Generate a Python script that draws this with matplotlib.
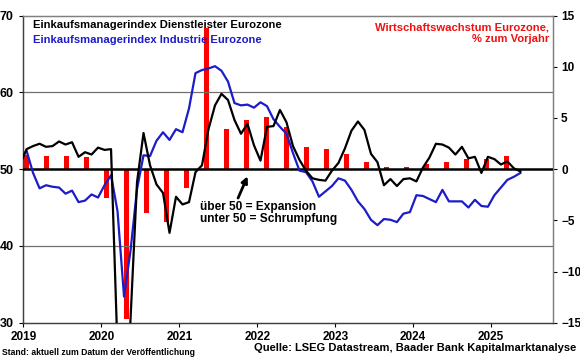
import numpy as np
import pandas as pd
import matplotlib
matplotlib.use("Agg")
import matplotlib.pyplot as plt

plt.rcParams['font.family'] = ['Liberation Sans', 'DejaVu Sans']

# monatliche Einkaufsmanagerindizes (Dez 2018 bis Mai 2025)
monate = pd.period_range('2018-12', '2025-05', freq='M')
pmi_dienstleister = [
    50.6,
    52.6, 53.0, 53.3, 52.9, 53.0, 53.6, 53.2, 53.5, 51.6, 52.2, 51.9, 52.8,
    52.5, 52.6, 26.4, 12.0, 30.5, 48.3, 54.7, 50.5, 48.0, 46.9, 41.7, 46.4,
    45.4, 45.7, 49.6, 50.5, 55.2, 58.3, 59.8, 59.0, 56.4, 54.6, 55.9, 53.1,
    51.1, 55.5, 55.6, 57.7, 56.1, 53.0, 51.2, 49.8, 48.8, 48.6, 48.5, 49.8,
    50.8, 52.7, 55.0, 56.2, 55.1, 52.0, 50.9, 47.9, 48.7, 47.8, 48.7, 48.8,
    48.4, 50.2, 51.5, 53.3, 53.2, 52.8, 51.9, 52.9, 51.4, 51.6, 49.5, 51.6,
    51.3, 50.6, 51.0, 50.1, 49.7,
]
pmi_industrie = [
    51.2,
    52.4, 49.5, 47.5, 47.9, 47.7, 47.6, 46.8, 47.2, 45.7, 45.9, 46.7, 46.3,
    47.9, 49.2, 44.5, 33.4, 39.4, 47.4, 51.8, 51.7, 53.7, 54.8, 53.8, 55.2,
    54.8, 57.9, 62.5, 62.9, 63.1, 63.4, 62.8, 61.4, 58.6, 58.3, 58.4, 58.0,
    58.7, 58.2, 56.5, 55.5, 54.6, 52.1, 49.8, 49.6, 48.4, 46.4, 47.1, 47.8,
    48.8, 48.5, 47.3, 45.8, 44.8, 43.4, 42.7, 43.5, 43.4, 43.1, 44.2, 44.4,
    46.6, 46.5, 46.1, 45.7, 47.3, 45.8, 45.8, 45.8, 45.0, 46.0, 45.2, 45.1,
    46.6, 47.6, 48.6, 49.0, 49.5,
]

# BIP Eurozone, % zum Vorjahr (Quartale 2019Q1 bis 2025Q1)
quartale = pd.period_range('2019Q1', '2025Q1', freq='Q')
bip_wachstum = [
    1.4, 1.3, 1.3, 1.15,
    -2.8, -14.6, -4.3, -5.2,
    -1.8, 13.8, 3.9, 4.8,
    5.1, 4.1, 2.2, 2.0,
    1.45, 0.65, 0.2, 0.2,
    0.5, 0.65, 1.0, 1.0,
    1.3,
]

jahre = list(range(2019, 2026))

# Monatswerte in der Monatsmitte
x_monat = monate.year + (monate.month - 0.5) / 12
# Balken liegen im Original auf eigener Kategorieachse (leicht gestreckt)
x_quartal = np.linspace(2019.043, 2025.2, len(quartale))

fig = plt.figure(figsize=(5.8, 3.59), dpi=100)
ax = fig.add_axes([0.0402, 0.1011, 0.9128, 0.8557])
ax2 = ax.twinx()

ax2.bar(x_quartal, bip_wachstum, width=0.062, color='#FF0000', zorder=2)
ax2.set_ylim(-15, 15)
ax2.set_yticks([-15, -10, -5, 0, 5, 10, 15])

# Linien vor den Balken
ax.set_zorder(ax2.get_zorder() + 1)
ax.patch.set_visible(False)

ax.axhline(40, color='#707070', lw=0.9, zorder=1)
ax.axhline(60, color='#707070', lw=0.9, zorder=1)
ax.axhline(50, color='black', lw=1.8, zorder=3)

ax.plot(x_monat, pmi_industrie, color='#1C1CC8', lw=1.6, zorder=4)
ax.plot(x_monat, pmi_dienstleister, color='black', lw=1.6, zorder=5)

ax.set_xlim(2019, 2025.79)
ax.set_ylim(30, 70)
ax.set_yticks([30, 40, 50, 60, 70])
ax.set_xticks(jahre)
ax.set_xticklabels([str(j) for j in jahre])

for a in (ax, ax2):
    a.tick_params(labelsize=9, length=3, width=0.8, pad=2)
    for s in a.spines.values():
        s.set_linewidth(0.9)
ax.tick_params(axis='x', labelsize=8.5, pad=3, colors='black')
ax.tick_params(axis='y', pad=4)
ax2.tick_params(axis='y', pad=3, labelsize=8.5)
for a in (ax, ax2):
    for lab in a.get_yticklabels():
        lab.set_fontweight('bold')
    a.spines['top'].set_color('#808080')
    a.spines['right'].set_color('#808080')
    a.spines['left'].set_color('#404040')
    a.spines['bottom'].set_color('#404040')
for lab in ax.get_xticklabels():
    lab.set_fontweight('bold')

ax.text(0.018, 0.969, 'Einkaufsmanagerindex Dienstleister Eurozone', transform=ax.transAxes,
        fontsize=8.1, fontweight='bold', color='black', va='center')
ax.text(0.018, 0.920, 'Einkaufsmanagerindex Industrie Eurozone', transform=ax.transAxes,
        fontsize=8.1, fontweight='bold', color='#1C1CC8', va='center')
ax.text(0.993, 0.943, 'Wirtschaftswachstum Eurozone,\n% zum Vorjahr', transform=ax.transAxes,
        fontsize=8.1, fontweight='bold', color='#EE1111', ha='right', va='center',
        linespacing=1.2)

ax.text(2021.27, 44.25, 'über 50 = Expansion\nunter 50 = Schrumpfung', fontsize=8.6,
        fontweight='bold', va='center', ha='left', linespacing=1.05)
ax.annotate('', xy=(2021.89, 49.4), xytext=(2021.74, 45.9),
            arrowprops=dict(arrowstyle='-|>', color='black', lw=2, mutation_scale=9))

fig.text(0.004, 0.018, 'Stand: aktuell zum Datum der Veröffentlichung', fontsize=6.25,
         fontweight='bold', ha='left', va='center')
fig.text(0.993, 0.03, 'Quelle: LSEG Datastream, Baader Bank Kapitalmarktanalyse', fontsize=8,
         fontweight='bold', ha='right', va='center')

fig.savefig('out.png', dpi=100)
